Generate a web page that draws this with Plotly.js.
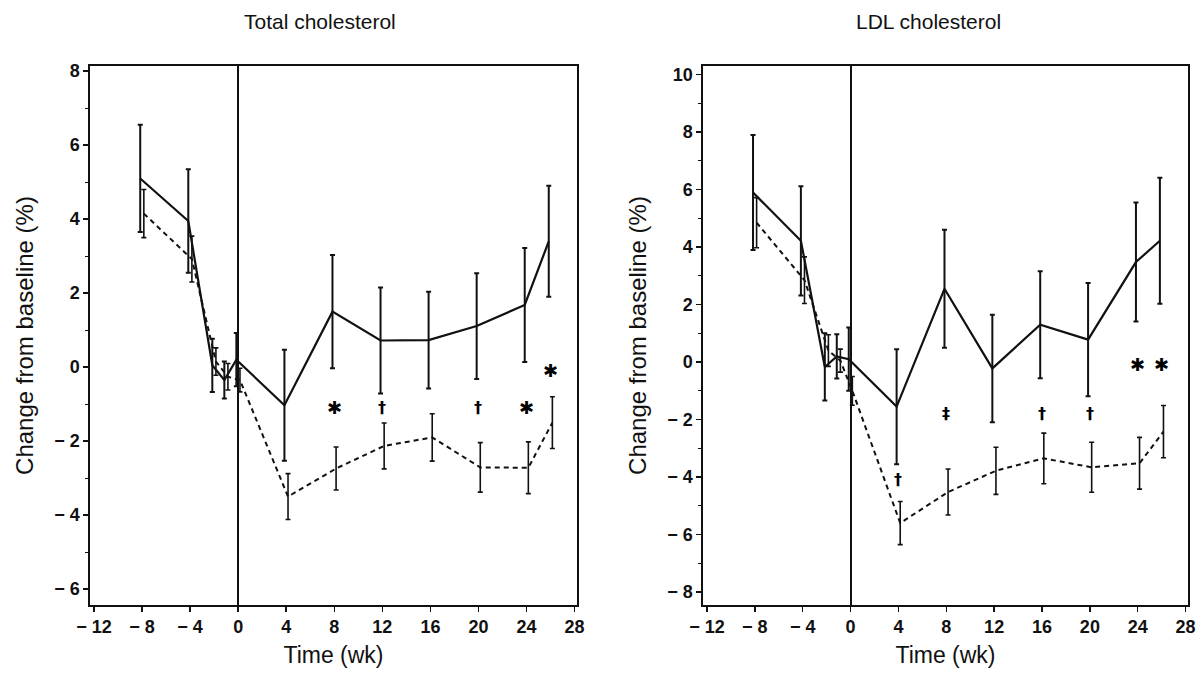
<!DOCTYPE html>
<html>
<head>
<meta charset="utf-8">
<script src="https://cdn.plot.ly/plotly-3.0.1.min.js"></script>
<style>html,body{margin:0;padding:0;background:#fff;}#chart{width:1201px;height:679px;}</style>
</head>
<body>
<div id="chart"></div>
<script>
// Time points (weeks)
const weeks = [-8, -4, -2, -1, 0, 4, 8, 12, 16, 20, 24, 26];

// Total cholesterol: % change from baseline
const tcSolid    = [5.1, 3.95, 0.05, -0.35, 0.2, -1.03, 1.5, 0.72, 0.73, 1.11, 1.68, 3.4];
const tcSolidErr = [1.45, 1.4, 0.72, 0.5, 0.72, 1.5, 1.53, 1.43, 1.31, 1.43, 1.54, 1.5];
const tcDash     = [4.15, 2.92, 0.15, -0.26, -0.35, -3.5, -2.74, -2.13, -1.9, -2.71, -2.72, -1.5];
const tcDashErr  = [0.65, 0.62, 0.37, 0.36, 0.32, 0.62, 0.58, 0.62, 0.64, 0.67, 0.7, 0.7];

// LDL cholesterol: % change from baseline
const ldlSolid    = [5.9, 4.22, -0.17, 0.2, 0.1, -1.55, 2.55, -0.22, 1.3, 0.78, 3.48, 4.22];
const ldlSolidErr = [2.0, 1.9, 1.17, 0.77, 1.1, 2.0, 2.05, 1.87, 1.86, 1.97, 2.07, 2.19];
const ldlDash     = [4.85, 2.85, 0.4, 0.05, -1.0, -5.6, -4.52, -3.78, -3.35, -3.66, -3.52, -2.42];
const ldlDashErr  = [0.87, 0.81, 0.55, 0.4, 0.5, 0.75, 0.8, 0.82, 0.88, 0.87, 0.9, 0.91];

// Significance markers
const tcSigX   = [8, 12, 20, 24, 26];
const tcSigY   = [-1.1, -1.1, -1.1, -1.1, -0.1];
const tcSigTxt = ['✱', '†', '†', '✱', '✱'];
const ldlSigX   = [4, 8, 16, 20, 24, 26];
const ldlSigY   = [-4.1, -1.8, -1.8, -1.8, -0.1, -0.1];
const ldlSigTxt = ['†', '‡', '†', '†', '✱', '✱'];

const xTicks = [-12, -8, -4, 0, 4, 8, 12, 16, 20, 24, 28];
const tcYTicks = [-6, -4, -2, 0, 2, 4, 6, 8];
const ldlYTicks = [-8, -6, -4, -2, 0, 2, 4, 6, 8, 10];
const fmt = v => String(v).replace('-', '\u2212 ');

const offS = -0.15, offD = 0.15;
const sx = weeks.map(w => w + offS);
const dx = weeks.map(w => w + offD);

function solidTrace(y, e, xa, ya) {
  return {x: sx, y: y, xaxis: xa, yaxis: ya, mode: 'lines', type: 'scatter',
    line: {color: '#111', width: 2.2},
    error_y: {type: 'data', array: e, visible: true, color: '#111', thickness: 2, width: 2.5},
    hoverinfo: 'skip', showlegend: false};
}
function dashTrace(y, e, xa, ya) {
  return {x: dx, y: y, xaxis: xa, yaxis: ya, mode: 'lines', type: 'scatter',
    line: {color: '#111', width: 2, dash: '5px,4px'},
    error_y: {type: 'data', array: e, visible: true, color: '#111', thickness: 1.6, width: 2.5},
    hoverinfo: 'skip', showlegend: false};
}

const data = [
  solidTrace(tcSolid, tcSolidErr, 'x', 'y'),
  dashTrace(tcDash, tcDashErr, 'x', 'y'),
  solidTrace(ldlSolid, ldlSolidErr, 'x2', 'y2'),
  dashTrace(ldlDash, ldlDashErr, 'x2', 'y2')
];

const tickFont = {family: 'Liberation Sans Narrow, Liberation Sans, Arial, sans-serif', size: 18, color: '#111', weight: 700};
const xTitleFont = {family: 'Liberation Sans, Arial, sans-serif', size: 23, color: '#111'};
const yTitleFont = {family: 'Liberation Sans, Arial, sans-serif', size: 24, color: '#111'};

function xaxis(domain, anchor) {
  return {domain: domain, anchor: anchor, range: [-12.33, 28.2], tickvals: xTicks, ticktext: xTicks.map(fmt),
    ticks: 'outside', ticklen: 5, tickwidth: 1.5, tickcolor: '#111', showgrid: false,
    zeroline: true, zerolinecolor: '#111', zerolinewidth: 2,
    showline: true, linecolor: '#111', linewidth: 1.6, mirror: true,
    tickfont: tickFont, fixedrange: true,
    title: {text: 'Time (wk)', font: xTitleFont, standoff: 10}};
}
function yaxis(domain, anchor, range, ticks) {
  return {domain: domain, anchor: anchor, range: range, tickvals: ticks, ticktext: ticks.map(fmt),
    ticks: 'outside', ticklen: 5, tickwidth: 1.5, tickcolor: '#111', showgrid: false, zeroline: false,
    minor: {dtick: 1, ticks: 'outside', ticklen: 3, tickcolor: '#111', tickwidth: 1},
    showline: true, linecolor: '#111', linewidth: 1.6, mirror: true,
    tickfont: tickFont, fixedrange: true,
    title: {text: 'Change from baseline (%)', font: yTitleFont, standoff: 14}};
}

const ydom = [1 - 605 / 679, 1 - 66 / 679];
const annotations = [];
function sigFont(t) { return {family: 'DejaVu Sans, sans-serif', size: t === '✱' ? 18 : 16, color: '#000', weight: 700}; }
tcSigX.forEach((x, i) => annotations.push({x: x, y: tcSigY[i], xref: 'x', yref: 'y', text: tcSigTxt[i],
  showarrow: false, xanchor: 'center', yanchor: 'middle', font: sigFont(tcSigTxt[i])}));
ldlSigX.forEach((x, i) => annotations.push({x: x, y: ldlSigY[i], xref: 'x2', yref: 'y2', text: ldlSigTxt[i],
  showarrow: false, xanchor: 'center', yanchor: 'middle', font: sigFont(ldlSigTxt[i])}));
const panelTitleFont = {family: 'Liberation Sans, Arial, sans-serif', size: 21, color: '#111'};
annotations.push({text: 'Total cholesterol', xref: 'paper', yref: 'paper', x: 320 / 1201, y: 1 - 22 / 679,
  xanchor: 'center', yanchor: 'middle', showarrow: false, font: panelTitleFont});
annotations.push({text: 'LDL cholesterol', xref: 'paper', yref: 'paper', x: 928 / 1201, y: 1 - 22 / 679,
  xanchor: 'center', yanchor: 'middle', showarrow: false, font: panelTitleFont});

const layout = {
  width: 1201, height: 679,
  margin: {l: 0, r: 0, t: 0, b: 0},
  paper_bgcolor: '#fff', plot_bgcolor: '#fff',
  showlegend: false,
  xaxis: xaxis([90 / 1201, 577 / 1201], 'y'),
  yaxis: yaxis(ydom, 'x', [-6.43, 8.14], tcYTicks),
  xaxis2: xaxis([703 / 1201, 1188 / 1201], 'y2'),
  yaxis2: yaxis(ydom, 'x2', [-8.45, 10.3], ldlYTicks),
  annotations: annotations
};

Plotly.newPlot('chart', data, layout, {displayModeBar: false, staticPlot: true});
</script>
</body>
</html>
